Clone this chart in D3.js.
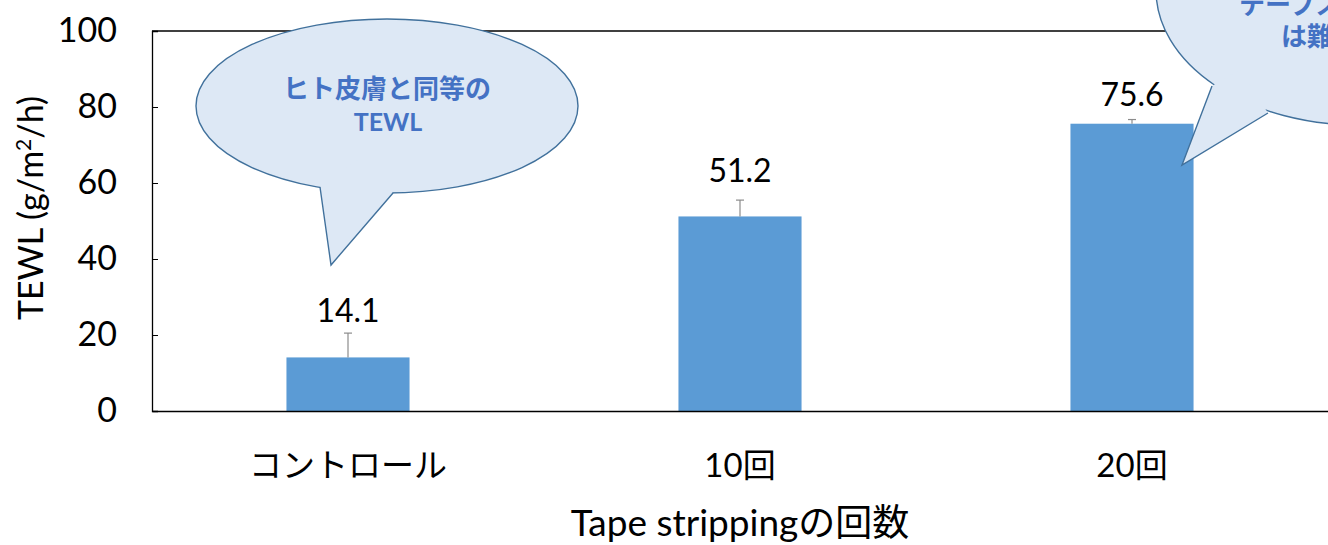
<!DOCTYPE html>
<html><head><meta charset="utf-8">
<script src="https://cdn.jsdelivr.net/npm/d3@7"></script>
<style>
html,body{margin:0;padding:0;background:#fff;overflow:hidden;}
svg{display:block;}
text{font-family:Lato,"Noto Sans CJK JP",sans-serif;}
</style></head>
<body>
<svg id="c" width="1328" height="545"></svg>
<script>
// ---- data ----
const categories = ["コントロール", "10回", "20回"];
const values = [14.1, 51.2, 75.6];
const errors = [6.4, 4.3, 1.1];
const yTicks = [0, 20, 40, 60, 80, 100];
const xTitle = "Tape strippingの回数";
const yTitle = "TEWL (g/m²/h)";
const callout1Lines = ["ヒト皮膚と同等の", "TEWL"];
const callout2Lines = ["テープストリッピング", "は難しい"];

// ---- layout ----
const W = 1328, H = 545;
const L = 152, R = 1328, T = 31, B = 411;
const labelGap = [11, 18, 14];

const svg = d3.select("#c");
const x = d3.scaleBand().domain(categories).range([L, R]).paddingInner(0.686).paddingOuter(0.343);
const y = d3.scaleLinear().domain([0, 100]).range([B, T]);

// frame
svg.append("line").attr("x1", L).attr("x2", R).attr("y1", T).attr("y2", T).attr("stroke", "#000").attr("stroke-width", 1.3);

// bars
svg.selectAll("rect.bar").data(values).join("rect").attr("class", "bar")
  .attr("x", (d, i) => x(categories[i])).attr("width", x.bandwidth())
  .attr("y", d => y(d)).attr("height", d => y(0) - y(d)).attr("fill", "#5b9bd5");

// error bars
const eg = svg.append("g").attr("stroke", "#8c8c8c").attr("stroke-width", 1.2);
values.forEach((v, i) => {
  const cx = x(categories[i]) + x.bandwidth() / 2;
  eg.append("line").attr("x1", cx).attr("x2", cx).attr("y1", y(v)).attr("y2", y(v + errors[i]));
  eg.append("line").attr("x1", cx - 4).attr("x2", cx + 4).attr("y1", y(v + errors[i])).attr("y2", y(v + errors[i]));
});

// value labels
svg.selectAll("text.val").data(values).join("text").attr("class", "val")
  .attr("x", (d, i) => x(categories[i]) + x.bandwidth() / 2)
  .attr("y", (d, i) => y(d + errors[i]) - labelGap[i])
  .attr("text-anchor", "middle").attr("font-size", 32).attr("fill", "#000")
  .text(d => d.toFixed(1));

// y axis
const ya = svg.append("g").attr("transform", `translate(${L},0)`)
  .call(d3.axisLeft(y).tickValues(yTicks).tickSize(-6).tickPadding(35).tickFormat(d3.format("d")));
ya.select(".domain").attr("stroke", "#000").attr("stroke-width", 1.3);
ya.selectAll(".tick line").attr("stroke", "#000").attr("stroke-width", 1);
ya.selectAll(".tick text").attr("font-size", 34).attr("fill", "#000").attr("font-family", "Lato,'Noto Sans CJK JP',sans-serif");

// x axis
const xa = svg.append("g").attr("transform", `translate(0,${B})`)
  .call(d3.axisBottom(x).tickSize(0).tickPadding(0).tickSizeOuter(0));
xa.select(".domain").attr("stroke", "#000").attr("stroke-width", 1.3);
xa.selectAll(".tick text").attr("font-size", 33).attr("fill", "#000").attr("dy", null).attr("y", 66)
  .attr("font-family", "Lato,'Noto Sans CJK JP',sans-serif");

// axis titles
svg.append("text").attr("x", 740).attr("y", 536).attr("text-anchor", "middle")
  .attr("font-size", 37).attr("fill", "#000").text(xTitle);
const yt = svg.append("text").attr("transform", "translate(43,208) rotate(-90)").attr("text-anchor", "middle")
  .attr("font-size", 34).attr("fill", "#000");
yt.append("tspan").text("TEWL (g/m");
yt.append("tspan").attr("font-size", 21).attr("dy", -12).text("2");
yt.append("tspan").attr("dy", 12).text("/h)");

// callouts
function callout(cx, cy, rx, ry, tail) {
  const g = svg.append("g");
  const fill = "#dde8f5", stroke = "#41719c";
  g.append("ellipse").attr("cx", cx).attr("cy", cy).attr("rx", rx).attr("ry", ry)
    .attr("fill", fill).attr("stroke", stroke).attr("stroke-width", 1.4);
  const [a, tip, b] = tail;
  g.append("path").attr("d", `M${a[0]},${a[1]}L${tip[0]},${tip[1]}L${b[0]},${b[1]}L${(a[0]+b[0])/2},${(a[1]+b[1])/2 - 30}Z`)
    .attr("fill", fill).attr("stroke", "none");
  g.append("path").attr("d", `M${a[0]},${a[1]}L${tip[0]},${tip[1]}L${b[0]},${b[1]}`)
    .attr("fill", "none").attr("stroke", stroke).attr("stroke-width", 1.4).attr("stroke-linejoin", "miter");
  return g;
}
callout(387, 106, 191, 87, [[320, 187], [331, 265], [393, 193]]);
callout(1358, -10, 202, 135, [[1212, 86], [1182, 165], [1268, 113]]);

const cf = "'Noto Sans CJK JP',sans-serif";
svg.append("text").attr("x", 387).attr("y", 98).attr("text-anchor", "middle").attr("font-size", 26)
  .attr("font-weight", "bold").attr("fill", "#4472c4").attr("font-family", cf).text(callout1Lines[0]);
svg.append("text").attr("x", 388).attr("y", 131).attr("text-anchor", "middle").attr("font-size", 25)
  .attr("font-weight", "bold").attr("fill", "#4472c4").attr("font-family", "Lato,sans-serif").text(callout1Lines[1]);
svg.append("text").attr("x", 1239).attr("y", 14).attr("text-anchor", "start").attr("font-size", 26)
  .attr("font-weight", "bold").attr("fill", "#4472c4").attr("font-family", cf).text(callout2Lines[0]);
svg.append("text").attr("x", 1281).attr("y", 46).attr("text-anchor", "start").attr("font-size", 26)
  .attr("font-weight", "bold").attr("fill", "#4472c4").attr("font-family", cf).text(callout2Lines[1]);
</script>
</body></html>
